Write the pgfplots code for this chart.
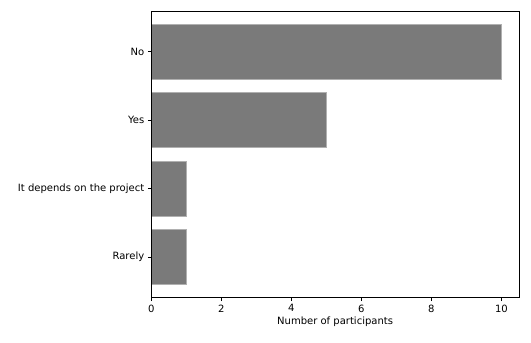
\documentclass[border=0pt]{standalone}
\usepackage{fontspec}
\setmainfont{DejaVu Sans}
\usepackage{pgfplots}
\pgfplotsset{compat=1.18}
\definecolor{barfill}{HTML}{7A7A7A}
\definecolor{baredge}{HTML}{B0B0B0}
\begin{document}
\fontsize{10pt}{12pt}\selectfont
\begin{tikzpicture}
\begin{axis}[
  name=ax,
  xbar,
  scale only axis,
  width=367pt,
  height=286pt,
  xmin=0, xmax=10.5,
  ymin=-0.59, ymax=3.59,
  xtick={0,2,4,6,8,10},
  ytick={0,1,2,3},
  yticklabels={Rarely, It depends on the project, Yes, No},
  xlabel={Number of participants},
  bar width=0.8,
  tick align=outside,
  major tick length=3.5pt,
  tick style={black, line width=0.8pt},
  axis line style={black, line width=0.8pt},
  tick pos=left,
  /pgf/number format/assume math mode=true,
  ticklabel style={font=\fontsize{10pt}{12pt}\selectfont},
  label style={font=\fontsize{10pt}{12pt}\selectfont},
  xlabel style={yshift=2pt},
]
\addplot[fill=barfill, draw=baredge, line width=0.6pt] coordinates {
  (1,0) (1,1) (5,2) (10,3)
};
\end{axis}
% frame, drawn again so that the top and right edges show
\draw[black, line width=0.8pt] (ax.south west) rectangle (ax.north east);
% page margins as in the reference
\path (ax.south west) ++(-151pt,-45pt);
\path (ax.north east) ++(12pt,11pt);
\end{tikzpicture}
\end{document}
